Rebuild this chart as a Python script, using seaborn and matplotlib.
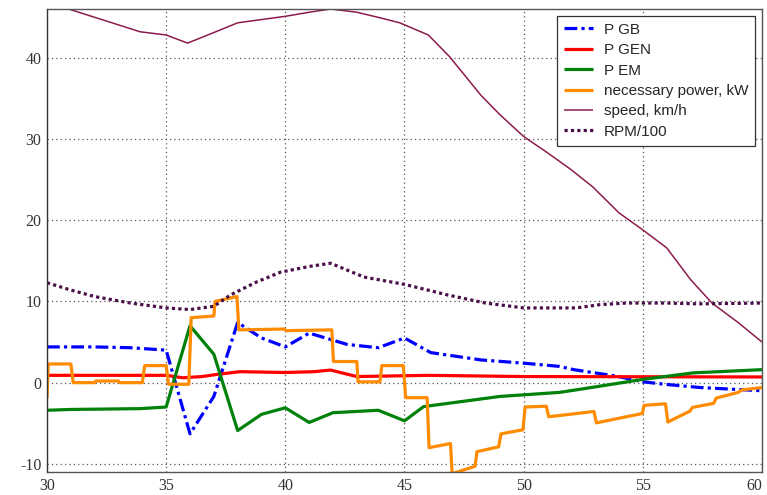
import matplotlib
matplotlib.use("Agg")
import matplotlib.pyplot as plt
import seaborn as sns
import pandas as pd

# time axis values (s) and measured quantities per series
gb_t = [30, 32, 33.5, 35, 36, 37, 38, 39, 40, 41, 42.6, 43.9, 45, 46.1, 48.2,
        50, 51.5, 52.1, 53.9, 55, 56.1, 57.4, 60]
gb_v = [4.4, 4.4, 4.3, 4.0, -6.3, -1.7, 7.4, 5.5, 4.4, 6.1, 4.7, 4.3, 5.5, 3.7, 2.8,
        2.4, 2.0, 1.6, 0.8, 0.1, -0.25, -0.6, -1.0]

gen_t = [30, 35, 35.7, 36.5, 37.1, 38.1, 40, 41.2, 41.9, 43.0, 46, 50, 60]
gen_v = [0.9, 0.9, 0.6, 0.75, 1.0, 1.35, 1.25, 1.35, 1.55, 0.75, 0.9, 0.75, 0.7]

em_t = [30, 31, 33.9, 35, 36, 37, 38, 39, 40, 41, 42, 43.9, 45, 45.8, 49, 50,
        51.5, 52.4, 55, 57.1, 60]
em_v = [-3.4, -3.3, -3.2, -3.0, 7.0, 3.5, -5.9, -3.9, -3.1, -4.9, -3.7, -3.4, -4.7,
        -2.95, -1.7, -1.5, -1.2, -0.8, 0.4, 1.2, 1.6]

need_t = [30.0, 30.05, 31.0, 31.1, 32.0, 32.05, 33.0, 33.05, 34.0, 34.1, 35.0, 35.1,
          35.95, 36.05, 37.0, 37.05, 37.97, 38.05, 39.95, 40.05, 41.95, 42.02, 43.0,
          43.05, 43.97, 44.05, 44.95, 45.05, 45.95, 46.03, 46.93, 47.0, 47.96, 48.04,
          48.95, 49.05, 49.97, 50.06, 50.95, 51.05, 52.95, 53.05, 54.98, 55.05, 55.95,
          56.05, 56.98, 57.08, 57.97, 58.08, 59.0, 59.15, 60.0]
need_v = [-1.9, 2.3, 2.3, 0.0, 0.0, 0.2, 0.2, 0.0, 0.0, 2.1, 2.1, -0.2,
          -0.2, 8.0, 8.2, 10.0, 10.6, 6.5, 6.6, 6.4, 6.5, 2.6, 2.6,
          0.1, 0.1, 2.1, 2.1, -1.85, -1.85, -8.0, -7.5, -11.2, -10.3, -8.5,
          -7.9, -6.3, -5.8, -3.0, -2.9, -4.2, -3.55, -4.95, -3.8, -2.8, -2.6,
          -4.85, -3.5, -3.05, -2.55, -1.9, -1.2, -0.9, -0.6]

spd_t = [30.0, 30.9, 32.3, 33.9, 35.0, 35.9, 37.0, 38.0, 39.0, 40.0, 41.0, 41.9,
         43.0, 44.0, 44.8, 46.0, 46.9, 48.2, 49.0, 50.0, 51.0, 52.0, 52.9, 54.0,
         55.0, 56.0, 57.0, 57.9, 59.0, 60.0]
spd_v = [46.8, 46.0, 44.7, 43.2, 42.8, 41.8, 43.1, 44.3, 44.7, 45.1, 45.6, 46.0,
         45.6, 44.9, 44.3, 42.8, 40.1, 35.4, 33.0, 30.3, 28.3, 26.2, 24.1, 20.9,
         18.8, 16.6, 12.7, 9.8, 7.4, 5.0]

rpm_t = [30, 31, 32, 33.5, 35, 36, 37, 37.7, 38.8, 39.8, 41, 41.9, 43.3, 45, 46.8,
         48.4, 50, 52.2, 53.2, 54.3, 56, 57.3, 60]
rpm_v = [12.3, 11.4, 10.6, 9.8, 9.2, 9.0, 9.4, 10.8, 12.4, 13.6, 14.3, 14.7, 13.0,
         12.1, 10.8, 9.8, 9.2, 9.2, 9.6, 9.8, 9.8, 9.7, 9.8]

x_ticks = [30, 35, 40, 45, 50, 55, 60]
y_ticks = [-10, 0, 10, 20, 30, 40]

sns.set_theme(style="white")
plt.rcParams["axes.unicode_minus"] = False
plt.rcParams["font.family"] = ["Liberation Sans", "DejaVu Sans"]

fig = plt.figure(figsize=(7.67, 4.95), dpi=100)
ax = fig.add_axes([47 / 767, 1 - 472 / 495, 715 / 767, 463 / 495])

series = [
    ("P GB", gb_t, gb_v, dict(color="#0000ff", lw=2.3, linestyle=(0, (4, 1.3, 1, 1.3)))),
    ("P GEN", gen_t, gen_v, dict(color="#ff0000", lw=2.3, linestyle="-")),
    ("P EM", em_t, em_v, dict(color="#00820a", lw=2.3, linestyle="-")),
    ("necessary power, kW", need_t, need_v, dict(color="#ff8c00", lw=2.3, linestyle="-")),
    ("speed, km/h", spd_t, spd_v, dict(color="#8c1c4e", lw=1.1, linestyle="-")),
    ("RPM/100", rpm_t, rpm_v, dict(color="#4a0f4a", lw=2.3, linestyle=(0, (1, 1)))),
]

for name, t, v, style in series:
    df = pd.DataFrame({"t": t, "v": v})
    sns.lineplot(data=df, x="t", y="v", estimator=None, sort=False, ax=ax,
                 label=name, solid_capstyle="butt", dash_capstyle="butt", **style)

ax.set_xlim(30, 60)
ax.set_ylim(-11, 46)
ax.set_xticks(x_ticks)
ax.set_yticks(y_ticks)
ax.set_xlabel("")
ax.set_ylabel("")

ax.grid(True, color="#555555", linestyle=(0, (1, 2.5)), linewidth=0.9)
for sp in ax.spines.values():
    sp.set_color("#555555")
    sp.set_linewidth(1.0)
ax.spines["left"].set_color("#333333")

ax.tick_params(axis="both", direction="in", length=5, width=0.8, color="#555555",
               labelsize=11.5, labelcolor="#333333", pad=4)
for lab in ax.get_xticklabels() + ax.get_yticklabels():
    lab.set_fontfamily(["Liberation Serif", "DejaVu Serif"])
# keep the last x label inside the figure
ax.get_xticklabels()[-1].set_horizontalalignment("right")

leg = ax.legend(loc="upper right", fontsize=11, frameon=True, fancybox=False,
                framealpha=1.0, edgecolor="#333333", handlelength=1.9,
                handletextpad=0.7, labelspacing=0.42, borderaxespad=0.45,
                borderpad=0.45)
leg.get_frame().set_linewidth(0.9)

fig.savefig("out.png", dpi=100)
